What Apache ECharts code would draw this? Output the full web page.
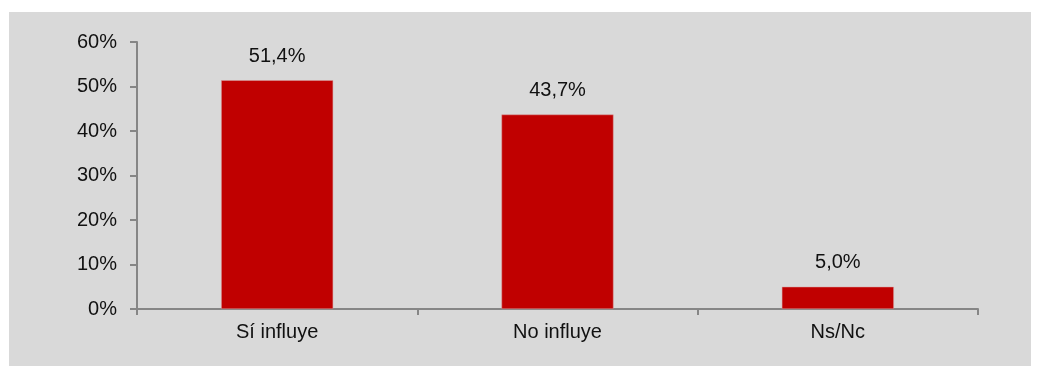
<!DOCTYPE html>
<html>
<head>
<meta charset="utf-8">
<script src="https://cdn.jsdelivr.net/npm/echarts@6/dist/echarts.min.js"></script>
<style>
  html, body { margin: 0; padding: 0; background: #ffffff; }
  #chart { width: 1044px; height: 372px; }
</style>
</head>
<body>
<div id="chart"></div>
<script>
// Respuestas: ¿influye?
const categories = ['Sí influye', 'No influye', 'Ns/Nc'];
const values = [51.4, 43.7, 5.0];
const yTicks = [0, 10, 20, 30, 40, 50, 60];

const chart = echarts.init(document.getElementById('chart'), null, { renderer: 'canvas' });
const font = '"Liberation Sans", Arial, sans-serif';
const axisGray = '#868686';

chart.setOption({
  animation: false,
  backgroundColor: '#ffffff',
  graphic: [{
    type: 'rect',
    z: -10,
    shape: { x: 9, y: 12, width: 1022, height: 354 },
    style: { fill: '#d9d9d9' }
  }],
  grid: { left: 137, right: 66, top: 42, bottom: 63, containLabel: false },
  xAxis: {
    type: 'category',
    data: categories,
    axisLine: { lineStyle: { color: axisGray, width: 2 } },
    axisTick: { show: true, length: 6, lineStyle: { color: axisGray, width: 2 } },
    axisLabel: { color: '#111', fontFamily: font, fontSize: 20, margin: 13 }
  },
  yAxis: {
    type: 'value',
    min: yTicks[0],
    max: yTicks[yTicks.length - 1],
    interval: 10,
    splitLine: { show: false },
    axisLine: { show: true, lineStyle: { color: axisGray, width: 2 } },
    axisTick: { show: true, length: 7, lineStyle: { color: axisGray, width: 2 } },
    axisLabel: {
      color: '#111', fontFamily: font, fontSize: 20, margin: 20,
      formatter: v => v + '%'
    }
  },
  series: [{
    type: 'bar',
    data: values,
    barWidth: 112,
    itemStyle: { color: '#c00000', borderColor: '#d9a0a0', borderWidth: 0.5 },
    label: {
      show: true,
      position: 'top',
      distance: 14,
      color: '#111',
      fontFamily: font,
      fontSize: 20,
      formatter: p => p.value.toFixed(1).replace('.', ',') + '%'
    }
  }]
});
</script>
</body>
</html>
